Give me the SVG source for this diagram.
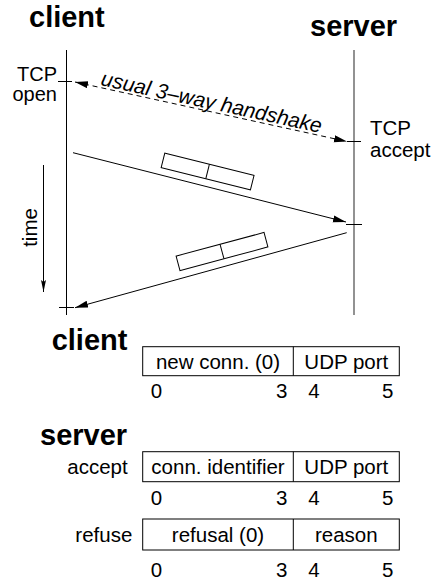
<svg xmlns="http://www.w3.org/2000/svg" width="435" height="582" viewBox="0 0 435 582">
<style>
text{font-family:"Liberation Sans",Arial,sans-serif;fill:#000}
.h{font-weight:bold;font-size:29px}
.l{font-size:20.5px}
.m{text-anchor:middle}
.e{text-anchor:end}
.ln{stroke:#000;stroke-width:1;fill:none}
.box{stroke:#000;stroke-width:1;fill:#fff}
</style>
<defs>
<marker id="ah" markerUnits="userSpaceOnUse" markerWidth="14" markerHeight="8" refX="13" refY="3.5" orient="auto-start-reverse" viewBox="0 0 14 8">
<path d="M0,0 L13,3.5 L0,7 z" fill="#000"/>
</marker>
<marker id="th" markerUnits="userSpaceOnUse" markerWidth="13" markerHeight="6" refX="12" refY="2.5" orient="auto" viewBox="0 0 13 6">
<path d="M0,0 L12,2.5 L0,5 L2,2.5 z" fill="#000"/>
</marker>
</defs>

<g id="client-lifeline">
<text class="h" x="29" y="27">client</text>
<line class="ln" x1="66.5" y1="50" x2="66.5" y2="315"/>
<line class="ln" x1="58" y1="81.5" x2="72" y2="81.5"/>
<line class="ln" x1="59" y1="307.5" x2="74" y2="307.5"/>
<text class="e" x="57" y="80.5" style="font-size:20px">TCP</text>
<text class="e" x="57" y="101" style="font-size:20px">open</text>
</g>

<g id="server-lifeline">
<text class="h" x="310" y="36">server</text>
<line x1="354" y1="50" x2="354" y2="315" stroke="#777" stroke-width="1.6"/>
<line class="ln" x1="347" y1="141.5" x2="361" y2="141.5" stroke="#555"/>
<line class="ln" x1="346" y1="224.5" x2="362" y2="224.5" stroke="#555"/>
<text class="l" x="370" y="135">TCP</text>
<text class="l" x="370" y="157">accept</text>
</g>

<g id="time-axis">
<text class="l m" transform="translate(37,227.5) rotate(-90)">time</text>
<line class="ln" x1="43.5" y1="165" x2="43.5" y2="292" marker-end="url(#th)"/>
</g>

<g id="connectors">
<line class="ln" x1="75" y1="82" x2="347" y2="141.5" stroke-dasharray="5,4" marker-start="url(#ah)" marker-end="url(#ah)"/>
<line class="ln" x1="73" y1="152.7" x2="346" y2="222" marker-end="url(#ah)"/>
<line class="ln" x1="346.7" y1="232.7" x2="75" y2="307.7" marker-end="url(#ah)"/>
</g>

<g id="handshake-label">
<text transform="translate(100,85) rotate(12.3)" style="font-style:italic;font-size:21px">usual 3–way handshake</text>
</g>

<g id="packet-request" transform="translate(207.6,171.5) rotate(14)">
<rect class="box" x="-46" y="-7.5" width="92" height="15"/>
<line class="ln" x1="0" y1="-7.5" x2="0" y2="7.5"/>
</g>

<g id="packet-reply" transform="translate(222,251.5) rotate(-15)">
<rect class="box" x="-45.5" y="-7.5" width="91" height="15"/>
<line class="ln" x1="0" y1="-7.5" x2="0" y2="7.5"/>
</g>

<g id="client-format">
<text class="h" x="51.7" y="350">client</text>
<rect class="box" x="142.7" y="346.7" width="256.6" height="29"/>
<line class="ln" x1="293.3" y1="346.7" x2="293.3" y2="375.7"/>
<text class="l m" x="218" y="369">new conn. (0)</text>
<text class="l m" x="346.3" y="369">UDP port</text>
<text class="l" x="150.7" y="398">0</text>
<text class="l e" x="287.3" y="398">3</text>
<text class="l" x="308.3" y="398">4</text>
<text class="l e" x="393.3" y="398">5</text>
</g>

<g id="server-format">
<text class="h" x="40" y="445">server</text>
</g>

<g id="accept-format">
<text class="l e" x="127.7" y="474.3">accept</text>
<rect class="box" x="142.7" y="451.7" width="256.6" height="30"/>
<line class="ln" x1="293.3" y1="451.7" x2="293.3" y2="481.7"/>
<text class="l m" x="218" y="474.3">conn. identifier</text>
<text class="l m" x="346.3" y="474.3">UDP port</text>
<text class="l" x="150.7" y="505">0</text>
<text class="l e" x="287.3" y="505">3</text>
<text class="l" x="308.3" y="505">4</text>
<text class="l e" x="393.3" y="505">5</text>
</g>

<g id="refuse-format">
<text class="l e" x="132.3" y="541.7">refuse</text>
<rect class="box" x="142.7" y="519" width="256.6" height="31"/>
<line class="ln" x1="293.3" y1="519" x2="293.3" y2="550"/>
<text class="l m" x="218" y="541.7">refusal (0)</text>
<text class="l m" x="346.3" y="541.7">reason</text>
<text class="l" x="150.7" y="577">0</text>
<text class="l e" x="287.3" y="577">3</text>
<text class="l" x="308.3" y="577">4</text>
<text class="l e" x="393.3" y="577">5</text>
</g>
</svg>
